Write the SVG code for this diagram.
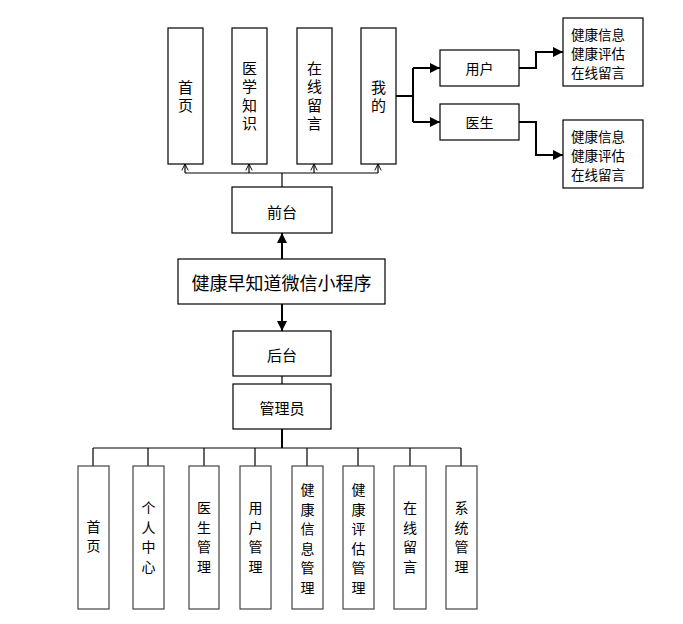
<svg xmlns="http://www.w3.org/2000/svg" width="683" height="624" viewBox="0 0 683 624">
<defs>
<marker id="fa" viewBox="0 0 10 10" refX="10" refY="5" markerWidth="11" markerHeight="10" markerUnits="userSpaceOnUse" orient="auto"><path d="M0,0 L10,5 L0,10 Z" fill="#000"/></marker>
<marker id="oa" viewBox="0 0 10 10" refX="9" refY="5" markerWidth="8" markerHeight="8" markerUnits="userSpaceOnUse" orient="auto"><path d="M1,1 L9,5 L1,9" fill="none" stroke="#000" stroke-width="1.2"/></marker>
</defs>
<style>
.b{fill:#fff;stroke:#000;stroke-width:1.2}
.g{fill:#fff;stroke:#444;stroke-width:1.2}
text{font-family:"Noto Sans CJK SC","Noto Sans",sans-serif;fill:#000;text-anchor:middle;dominant-baseline:central}
.t15{font-size:15px}
.t14{font-size:14px}
.t13{font-size:13.5px}
.t18{font-size:18px}
.l{text-anchor:start}
.v1{font-size:15px;writing-mode:vertical-rl;letter-spacing:3.5px}
.v2{font-size:14px;writing-mode:vertical-rl;letter-spacing:5.5px}
.c{fill:none;stroke:#000;stroke-width:1.2}
.c2{fill:none;stroke:#000;stroke-width:2}
</style>
<rect width="683" height="624" fill="#fff"/>
<g id="connectors">
<path class="c" d="M282,187 V173 M185,173 H378" />
<path class="c" d="M185,173 V164" marker-end="url(#oa)"/>
<path class="c" d="M249,173 V164" marker-end="url(#oa)"/>
<path class="c" d="M314,173 V164" marker-end="url(#oa)"/>
<path class="c" d="M378,173 V164" marker-end="url(#oa)"/>
<path class="c2" d="M396,96 H413 M413,68 V122"/>
<path class="c2" d="M413,68 H440" marker-end="url(#fa)"/>
<path class="c2" d="M413,122 H440" marker-end="url(#fa)"/>
<path class="c2" d="M519,68 H536 V52 H563" marker-end="url(#fa)"/>
<path class="c2" d="M519,122 H536 V155 H563" marker-end="url(#fa)"/>
<path class="c2" d="M282,259 V233" marker-end="url(#fa)"/>
<path class="c2" d="M282,304 V331" marker-end="url(#fa)"/>
<path class="c" d="M282,376 V384" stroke="#666"/>
<path class="c2" d="M282,429 V448"/>
<path class="c" d="M93,448 H461"/>
<path class="c" d="M93,448 V466 M148,448 V466 M204,448 V466 M255,448 V466 M307,448 V466 M358,448 V466 M410,448 V466 M461,448 V466"/>
</g>
<g id="n-shouye"><rect class="b" x="168" y="28" width="35" height="136"/><text class="v1" x="185.5" y="98.25">首页</text></g>
<g id="n-yixue"><rect class="b" x="232" y="28" width="35" height="136"/><text class="v1" x="249.5" y="97.5">医学知识</text></g>
<g id="n-liuyan"><rect class="b" x="297" y="28" width="35" height="136"/><text class="v1" x="314.5" y="97.5">在线留言</text></g>
<g id="n-wode"><rect class="b" x="361" y="28" width="35" height="136"/><text class="v1" x="378.5" y="98.25">我的</text></g>
<g id="n-yonghu"><rect class="b" x="440" y="50" width="79" height="36"/><text class="t14" x="479.5" y="68">用户</text></g>
<g id="n-yisheng"><rect class="b" x="440" y="104" width="79" height="36"/><text class="t14" x="479.5" y="122">医生</text></g>
<g id="n-user-items"><rect class="b" x="563" y="18" width="80" height="68"/><text class="t13 l"><tspan x="571" y="34">健康信息</tspan><tspan x="571" y="53">健康评估</tspan><tspan x="571" y="72">在线留言</tspan></text></g>
<g id="n-doc-items"><rect class="b" x="563" y="120" width="80" height="68"/><text class="t13 l"><tspan x="571" y="136">健康信息</tspan><tspan x="571" y="155">健康评估</tspan><tspan x="571" y="174">在线留言</tspan></text></g>
<g id="n-qiantai"><rect class="b" x="232" y="187" width="100" height="46"/><text class="t15" x="282" y="211">前台</text></g>
<g id="n-main"><rect class="b" x="178" y="259" width="207" height="45"/><text class="t18" x="281.5" y="281.5">健康早知道微信小程序</text></g>
<g id="n-houtai"><rect class="b" x="233" y="331" width="98" height="45"/><text class="t15" x="282" y="354">后台</text></g>
<g id="n-admin"><rect class="b" x="233" y="384" width="98" height="45"/><text class="t15" x="282" y="407">管理员</text></g>
<g id="m-shouye"><rect class="g" x="78" y="466" width="31" height="143"/><text class="v2" x="93.5" y="539">首页</text></g>
<g id="m-geren"><rect class="g" x="133" y="466" width="31" height="143"/><text class="v2" x="148.5" y="540">个人中心</text></g>
<g id="m-yisheng"><rect class="g" x="189" y="466" width="30" height="143"/><text class="v2" x="204" y="540">医生管理</text></g>
<g id="m-yonghu"><rect class="g" x="240" y="466" width="31" height="143"/><text class="v2" x="255.5" y="540">用户管理</text></g>
<g id="m-xinxi"><rect class="g" x="292" y="466" width="31" height="143"/><text class="v2" x="307.5" y="541.5">健康信息管理</text></g>
<g id="m-pinggu"><rect class="g" x="343" y="466" width="31" height="143"/><text class="v2" x="358.5" y="541.5">健康评估管理</text></g>
<g id="m-liuyan"><rect class="g" x="394" y="466" width="32" height="143"/><text class="v2" x="410" y="540">在线留言</text></g>
<g id="m-xitong"><rect class="g" x="446" y="466" width="31" height="143"/><text class="v2" x="461.5" y="540">系统管理</text></g>
</svg>
